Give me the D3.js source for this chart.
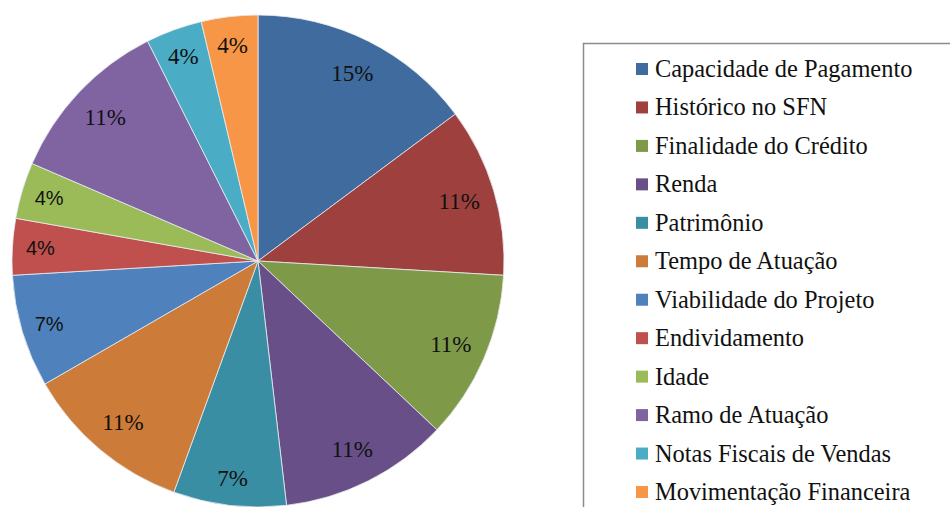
<!DOCTYPE html>
<html>
<head>
<meta charset="utf-8">
<script src="https://cdn.jsdelivr.net/npm/d3@7"></script>
<style>
  html, body { margin: 0; padding: 0; background: #fff; }
</style>
</head>
<body>
<div id="chart"></div>
<script>
// chart size, same as the window
const WIDTH = 950,
      HEIGHT = 507;

// categories and counts (labels show share of total)
const categories = [
    "Capacidade de Pagamento",
    "Histórico no SFN",
    "Finalidade do Crédito",
    "Renda",
    "Patrimônio",
    "Tempo de Atuação",
    "Viabilidade do Projeto",
    "Endividamento",
    "Idade",
    "Ramo de Atuação",
    "Notas Fiscais de Vendas",
    "Movimentação Financeira"
];
const counts = [4, 3, 3, 3, 2, 3, 2, 1, 1, 3, 1, 1];

const colors = [
    "#3f6b9e", "#9e413e", "#7e9a48", "#684f87", "#3a8ea4", "#cc7b38",
    "#4f81bd", "#c0504d", "#9bbb59", "#8064a2", "#4bacc6", "#f79646"
];

const SERIF = '"Liberation Serif"';
const SANS = '"Liberation Sans"';

// these three labels are drawn in a sans face in the original
const sansLabels = [6, 7, 8];

const data = categories.map((name, i) => ({ name: name, value: counts[i] }));
const total = d3.sum(counts);

let svg = d3
    .select("#chart")
    .append("svg")
    .attr("width", WIDTH)
    .attr("height", HEIGHT);

// pie
const cx = 258, cy = 261, R = 246;

const pie = d3.pie().sort(null).value(d => d.value);
const arc = d3.arc().innerRadius(0).outerRadius(R);
// small slices get their label a bit nearer the rim
const labelPos = d => {
    const r = d.data.value >= 3 ? 210 : 218;
    return d3.arc().innerRadius(r).outerRadius(r).centroid(d);
};

const g = svg.append("g").attr("transform", `translate(${cx},${cy})`);

g.selectAll("path")
    .data(pie(data))
    .enter()
    .append("path")
    .attr("d", arc)
    .attr("fill", (d, i) => colors[i])
    .attr("stroke", "#e8ecf2")
    .attr("stroke-width", 0.8);

g.selectAll("text")
    .data(pie(data))
    .enter()
    .append("text")
    .attr("transform", d => `translate(${labelPos(d)})`)
    .attr("text-anchor", "middle")
    .attr("dy", "0.35em")
    .style("font-family", (d, i) => sansLabels.includes(i) ? SANS : SERIF)
    .style("font-size", (d, i) => sansLabels.includes(i) ? "20px" : "23px")
    .attr("fill", "#111")
    .text(d => Math.round(d.data.value / total * 100) + "%");

// legend box, runs off the right and bottom edges
svg.append("rect")
    .attr("x", 583.5)
    .attr("y", 43.5)
    .attr("width", 420)
    .attr("height", 500)
    .attr("fill", "#fff")
    .attr("stroke", "#8c8c8c")
    .attr("stroke-width", 1.5);

const rowY = d3.scalePoint()
    .domain(categories)
    .range([77, 500]);

const legend = svg.selectAll(".legend-item")
    .data(categories)
    .enter()
    .append("g")
    .attr("class", "legend-item")
    .attr("transform", d => `translate(0,${rowY(d)})`);

legend.append("rect")
    .attr("x", 636)
    .attr("y", -14)
    .attr("width", 12)
    .attr("height", 12)
    .attr("fill", (d, i) => colors[i]);

legend.append("text")
    .attr("x", 655)
    .attr("y", 0)
    .style("font-family", SERIF)
    .style("font-size", "24.4px")
    .attr("fill", "#111")
    .text(d => d);
</script>
</body>
</html>
